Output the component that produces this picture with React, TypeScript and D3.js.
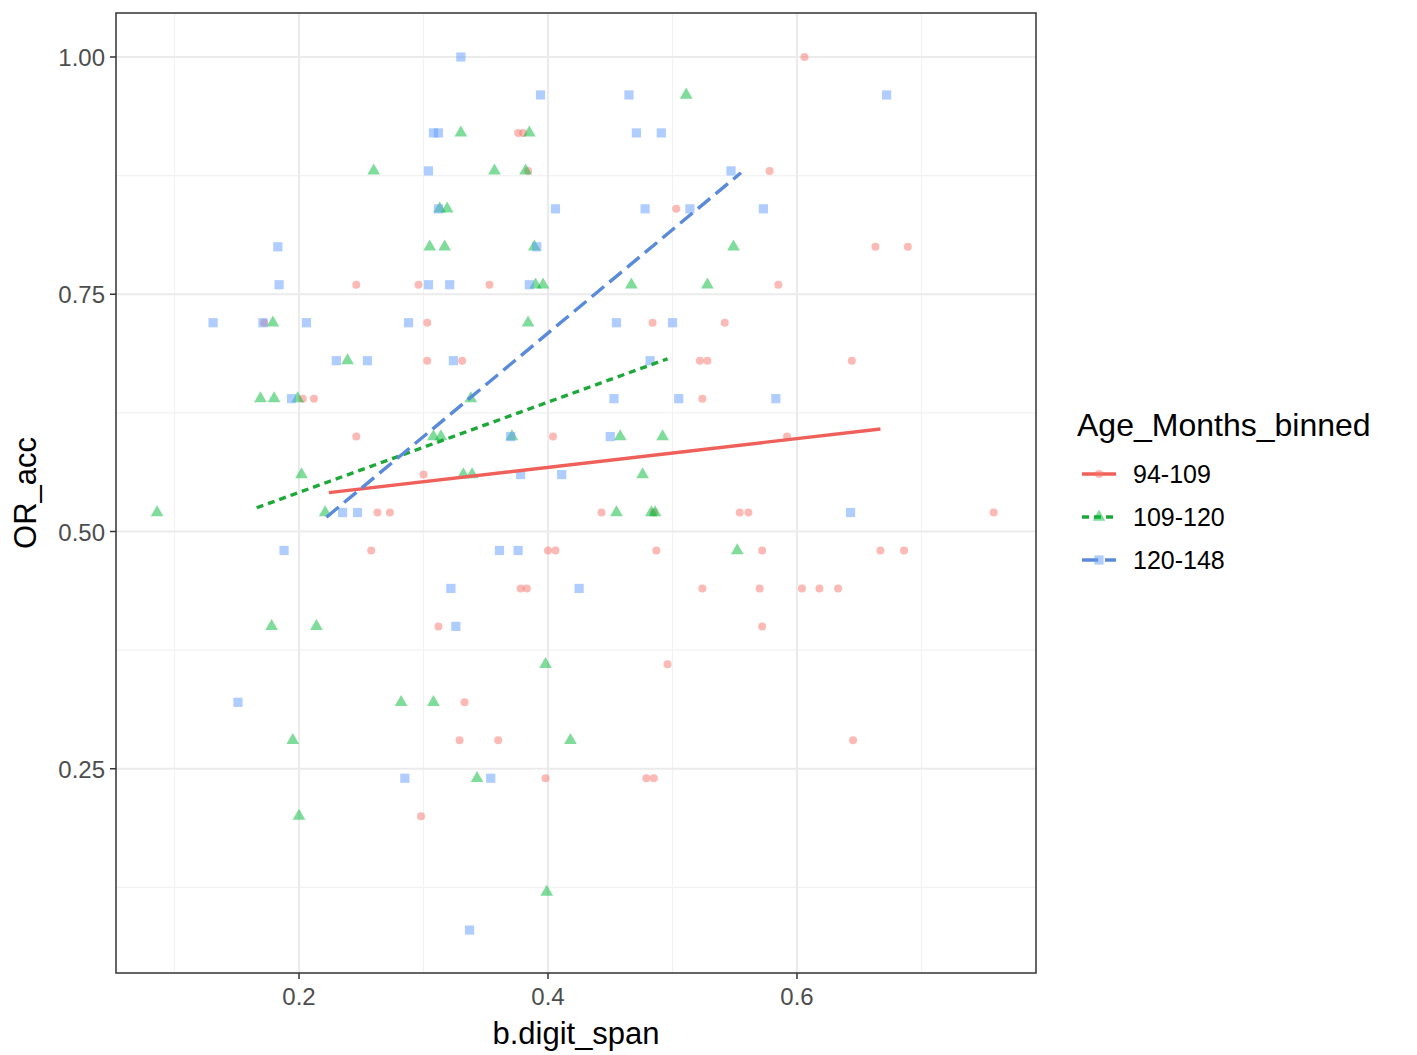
import * as d3 from "d3";
import { useEffect } from "react";

const groups = ["94-109", "109-120", "120-148"];
const colors = ["#F8766D", "#00BA38", "#619CFF"];
const lineColors = ["#F0605A", "#1FA83A", "#5A8ADA"];
const dashes = ["none", "7 5", "16 7"];

// [x, y]
const red: [number, number][] = [
  [0.606, 1.0], [0.578, 0.88], [0.663, 0.8], [0.689, 0.8], [0.246, 0.76], [0.296, 0.76],
  [0.353, 0.76], [0.585, 0.76], [0.303, 0.72], [0.484, 0.72], [0.542, 0.72], [0.303, 0.68],
  [0.331, 0.68], [0.522, 0.68], [0.528, 0.68], [0.644, 0.68], [0.203, 0.64], [0.212, 0.64],
  [0.524, 0.64], [0.246, 0.6], [0.404, 0.6], [0.592, 0.6], [0.3, 0.56], [0.263, 0.52],
  [0.273, 0.52], [0.443, 0.52], [0.554, 0.52], [0.561, 0.52], [0.758, 0.52], [0.485, 0.52],
  [0.258, 0.48], [0.4, 0.48], [0.406, 0.48], [0.487, 0.48], [0.572, 0.48], [0.667, 0.48],
  [0.686, 0.48], [0.378, 0.44], [0.383, 0.44], [0.524, 0.44], [0.57, 0.44], [0.604, 0.44],
  [0.618, 0.44], [0.633, 0.44], [0.312, 0.4], [0.572, 0.4], [0.496, 0.36], [0.333, 0.32],
  [0.329, 0.28], [0.36, 0.28], [0.645, 0.28], [0.398, 0.24], [0.479, 0.24], [0.485, 0.24],
  [0.298, 0.2], [0.376, 0.92], [0.38, 0.92], [0.384, 0.88], [0.503, 0.84], [0.172, 0.72],
];
const green: [number, number][] = [
  [0.086, 0.52], [0.511, 0.96], [0.33, 0.92], [0.385, 0.92], [0.26, 0.88], [0.357, 0.88],
  [0.382, 0.88], [0.313, 0.84], [0.319, 0.84], [0.305, 0.8], [0.317, 0.8], [0.389, 0.8],
  [0.549, 0.8], [0.39, 0.76], [0.396, 0.76], [0.467, 0.76], [0.528, 0.76], [0.179, 0.72],
  [0.384, 0.72], [0.239, 0.68], [0.169, 0.64], [0.18, 0.64], [0.199, 0.64], [0.338, 0.64],
  [0.308, 0.6], [0.314, 0.6], [0.371, 0.6], [0.458, 0.6], [0.492, 0.6], [0.202, 0.56],
  [0.332, 0.56], [0.339, 0.56], [0.476, 0.56], [0.221, 0.52], [0.455, 0.52], [0.483, 0.52],
  [0.486, 0.52], [0.552, 0.48], [0.178, 0.4], [0.214, 0.4], [0.398, 0.36], [0.282, 0.32],
  [0.308, 0.32], [0.195, 0.28], [0.418, 0.28], [0.343, 0.24], [0.2, 0.2], [0.399, 0.12],
];
const blue: [number, number][] = [
  [0.33, 1.0], [0.394, 0.96], [0.465, 0.96], [0.672, 0.96], [0.308, 0.92], [0.312, 0.92],
  [0.471, 0.92], [0.491, 0.92], [0.304, 0.88], [0.547, 0.88], [0.312, 0.84], [0.406, 0.84],
  [0.478, 0.84], [0.514, 0.84], [0.573, 0.84], [0.183, 0.8], [0.391, 0.8], [0.184, 0.76],
  [0.304, 0.76], [0.321, 0.76], [0.385, 0.76], [0.131, 0.72], [0.171, 0.72], [0.206, 0.72],
  [0.288, 0.72], [0.455, 0.72], [0.5, 0.72], [0.23, 0.68], [0.255, 0.68], [0.324, 0.68],
  [0.482, 0.68], [0.194, 0.64], [0.453, 0.64], [0.505, 0.64], [0.583, 0.64], [0.37, 0.6],
  [0.45, 0.6], [0.378, 0.56], [0.411, 0.56], [0.235, 0.52], [0.247, 0.52], [0.643, 0.52],
  [0.188, 0.48], [0.361, 0.48], [0.376, 0.48], [0.322, 0.44], [0.425, 0.44], [0.326, 0.4],
  [0.151, 0.32], [0.285, 0.24], [0.354, 0.24], [0.337, 0.08],
];
const seriesPoints = [red, green, blue];
// linear fit endpoints per group
const fits: [number, number][][] = [
  [[0.224, 0.541], [0.667, 0.608]],
  [[0.166, 0.525], [0.496, 0.682]],
  [[0.222, 0.515], [0.555, 0.878]],
];
const xTicks = [0.2, 0.4, 0.6];
const xMinor = [0.1, 0.3, 0.5, 0.7];
const yTicks = [0.25, 0.5, 0.75, 1.0];
const yMinor = [0.125, 0.375, 0.625, 0.875];

const L = 116, R = 1036, T = 13, B = 973;
const x = d3.scaleLinear().domain([0, 0.6]).range([50, 797]);
const y = d3.scaleLinear().domain([0, 1]).range([1006, 57]);
const font = "'Liberation Sans', Arial, sans-serif";

function Mark({ g, cx, cy, color }: { g: number; cx: number; cy: number; color: string }) {
  if (g === 0) return <circle cx={cx} cy={cy} r={4} fill={color} fillOpacity={0.5} />;
  if (g === 1) {
    const sym = d3.symbol(d3.symbolTriangle, 70)();
    return <path d={sym || ""} transform={`translate(${cx},${cy})`} fill={color} fillOpacity={0.5} />;
  }
  const h = 4.6;
  return <rect x={cx - h} y={cy - h} width={2 * h} height={2 * h} fill={color} fillOpacity={0.5} />;
}

export default function App() {
  useEffect(() => {
    document.body.style.margin = "0";
  }, []);
  const line = d3.line<[number, number]>().x((d) => x(d[0])).y((d) => y(d[1]));
  return (
    <svg width={1417} height={1055} style={{ display: "block", fontFamily: font }}>
      <rect width={1417} height={1055} fill="white" />
      {xMinor.map((v) => (
        <line key={"xm" + v} x1={x(v)} x2={x(v)} y1={T} y2={B} stroke="#F2F2F2" strokeWidth={1.2} />
      ))}
      {yMinor.map((v) => (
        <line key={"ym" + v} x1={L} x2={R} y1={y(v)} y2={y(v)} stroke="#F2F2F2" strokeWidth={1.2} />
      ))}
      {xTicks.map((v) => (
        <line key={"x" + v} x1={x(v)} x2={x(v)} y1={T} y2={B} stroke="#EBEBEB" strokeWidth={2.2} />
      ))}
      {yTicks.map((v) => (
        <line key={"y" + v} x1={L} x2={R} y1={y(v)} y2={y(v)} stroke="#EBEBEB" strokeWidth={2.2} />
      ))}
      {seriesPoints.map((pts, g) =>
        pts.map((p, i) => <Mark key={g + "-" + i} g={g} cx={x(p[0])} cy={y(p[1])} color={colors[g]} />)
      )}
      {fits.map((f, g) => (
        <path key={"f" + g} d={line(f) || ""} fill="none" stroke={lineColors[g]} strokeWidth={3.4}
          strokeDasharray={dashes[g]} />
      ))}
      <rect x={L} y={T} width={R - L} height={B - T} fill="none" stroke="#333333" strokeWidth={1.5} />
      {xTicks.map((v) => (
        <g key={"xt" + v}>
          <line x1={x(v)} x2={x(v)} y1={B} y2={B + 6} stroke="#333" strokeWidth={1.5} />
          <text x={x(v)} y={B + 32} textAnchor="middle" fontSize={24} fill="#4D4D4D">{v.toFixed(1)}</text>
        </g>
      ))}
      {yTicks.map((v) => (
        <g key={"yt" + v}>
          <line x1={L - 6} x2={L} y1={y(v)} y2={y(v)} stroke="#333" strokeWidth={1.5} />
          <text x={L - 11} y={y(v) + 9} textAnchor="end" fontSize={24} fill="#4D4D4D">{v.toFixed(2)}</text>
        </g>
      ))}
      <text x={(L + R) / 2} y={1044} textAnchor="middle" fontSize={31}>b.digit_span</text>
      <text transform={`translate(36,${(T + B) / 2}) rotate(-90)`} textAnchor="middle" fontSize={31}>OR_acc</text>
      <text x={1077} y={436} fontSize={32}>Age_Months_binned</text>
      {groups.map((gName, g) => {
        const ky = 474 + g * 43;
        return (
          <g key={gName}>
            <line x1={1082} x2={1116} y1={ky} y2={ky} stroke={lineColors[g]} strokeWidth={3.4}
              strokeDasharray={dashes[g]} />
            <Mark g={g} cx={1099} cy={ky} color={colors[g]} />
            <text x={1133} y={ky + 9} fontSize={25}>{gName}</text>
          </g>
        );
      })}
    </svg>
  );
}
